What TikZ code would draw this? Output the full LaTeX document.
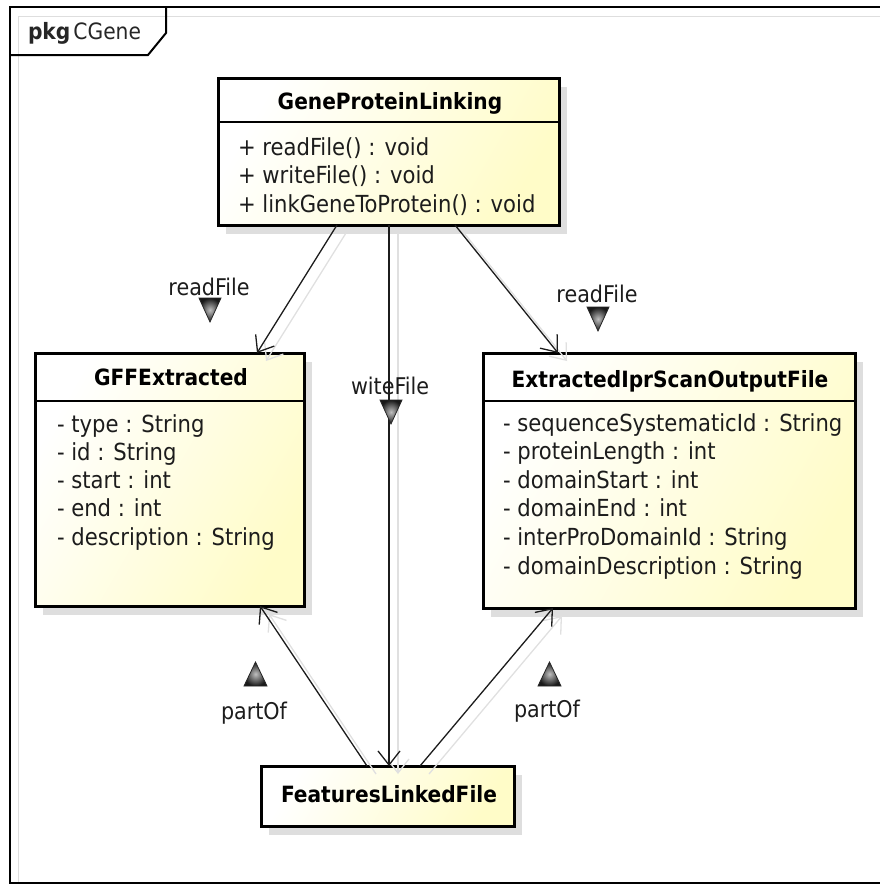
\documentclass[tikz,border=0pt]{standalone}
\usepackage{fontspec}
\setmainfont{DejaVu Sans Condensed}
\usetikzlibrary{arrows.meta,shadows}
\definecolor{clsfill}{RGB}{255,252,200}
\definecolor{ink}{RGB}{28,28,28}
\definecolor{ghost}{RGB}{224,224,224}
\definecolor{frameinner}{RGB}{222,222,222}

\begin{document}
\begin{tikzpicture}[x=1pt,y=-1pt,
  every node/.style={inner sep=0pt, outer sep=0pt, text=ink},
  txt/.style={font=\fontsize{23.5}{27}\selectfont, anchor=base west},
  lbl/.style={font=\fontsize{23}{27}\selectfont, anchor=base},
  ttl/.style={font=\fontsize{22.4}{27}\selectfont\bfseries, text=black, anchor=base},
  cls/.style={draw=black, line width=3pt, anchor=north west,
    top color=white, bottom color=clsfill, shading angle=60,
    drop shadow={shadow xshift=8pt, shadow yshift=-9pt, fill=black!13, opacity=1}},
  divider/.style={draw=black, line width=1.6pt},
  assoc/.style={draw=ink, line width=1.3pt, -{Straight Barb[length=14pt,width=22pt]}},
  ghostline/.style={draw=ghost, line width=1.3pt, -{Straight Barb[length=14pt,width=22pt]},
    transform canvas={xshift=9pt,yshift=-8pt}},
  marker/.style={draw=black!85, line width=0.8pt, inner color=gray!50, outer color=black!90},
]
\useasboundingbox (0,0) rectangle (879,886);

% package frame with its tab
\draw[frameinner, line width=1.5pt] (18.5,882) -- (18.5,16.5) -- (885,16.5);
\draw[black, line width=2pt] (885,7) -- (9.5,7) -- (9.5,883) -- (885,883);
\draw[black, line width=2pt] (166,7) -- (166,33) -- (148,55) -- (9.5,55);
\node[anchor=base west, font=\fontsize{22.5}{26}\selectfont, text=black!85] (pkgtitle) at (28,39)
  {\bfseries pkg\hspace{3pt}\mdseries CGene};

% classes
\node[cls, minimum width=341pt, minimum height=147pt] (gpl) at (218,78) {};
\node[cls, minimum width=269pt, minimum height=253pt] (gff) at (35,353) {};
\node[cls, minimum width=372pt, minimum height=255pt] (ipr) at (483,353) {};
\node[cls, minimum width=253pt, minimum height=60pt] (flf) at (261,766) {};

% compartment lines
\draw[divider] ([yshift=-44pt]gpl.north west) -- ([yshift=-44pt]gpl.north east);
\draw[divider] ([yshift=-48pt]gff.north west) -- ([yshift=-48pt]gff.north east);
\draw[divider] ([yshift=-48pt]ipr.north west) -- ([yshift=-48pt]ipr.north east);

% class names
\node[ttl] (gplname) at (390,109) {GeneProteinLinking};
\node[ttl] (gffname) at (171,385) {GFFExtracted};
\node[ttl] (iprname) at (670,387) {ExtractedIprScanOutputFile};
\node[ttl] (flfname) at (389,802) {FeaturesLinkedFile};

% operations
\node[txt] (gplop1) at (238,155) {+ readFile() : void};
\node[txt] (gplop2) at (238,183.5) {+ writeFile() : void};
\node[txt] (gplop3) at (238,212) {+ linkGeneToProtein() : void};

% attributes
\foreach \t [count=\i] in {type : String, id : String, start : int, end : int, description : String}
  \node[txt] (gffattr\i) at (57,432+28.3*\i-28.3) {- \t};
\foreach \t [count=\i] in {sequenceSystematicId : String, proteinLength : int, domainStart : int,
    domainEnd : int, interProDomainId : String, domainDescription : String}
  \node[txt] (iprattr\i) at (503,431+28.6*\i-28.6) {- \t};

% connector shadows
\draw[ghostline] ([xshift=119pt]gpl.south west) -- ([xshift=222pt]gff.north west);
\draw[ghostline] ([xshift=171pt]gpl.south west) -- ([xshift=128pt]flf.north west);
\draw[ghostline] ([xshift=237pt]gpl.south west) -- ([xshift=75pt]ipr.north west);
\draw[ghostline] ([xshift=106pt]flf.north west) -- ([xshift=225pt]gff.south west);
\draw[ghostline] ([xshift=159pt]flf.north west) -- ([xshift=70pt]ipr.south west);

% associations
\draw[assoc] ([xshift=119pt]gpl.south west) -- ([xshift=222pt]gff.north west);
\draw[assoc] ([xshift=171pt]gpl.south west) -- ([xshift=128pt]flf.north west);
\draw[assoc] ([xshift=237pt]gpl.south west) -- ([xshift=75pt]ipr.north west);
\draw[assoc] ([xshift=106pt]flf.north west) -- ([xshift=225pt]gff.south west);
\draw[assoc] ([xshift=159pt]flf.north west) -- ([xshift=70pt]ipr.south west);

% association names with direction markers
\node[lbl] (lblread1) at (209,295) {readFile};
\path[marker] (199,298) -- (221,298) -- (210,322) -- cycle;
\node[lbl] (lblread2) at (597,302) {readFile};
\path[marker] (587,307) -- (609,307) -- (598,331) -- cycle;
\node[lbl] (lblwrite) at (390,394) {witeFile};
\path[marker] (380,400) -- (402,400) -- (391,424) -- cycle;
\node[lbl] (lblpart1) at (254,719) {partOf};
\path[marker] (244,686) -- (267,686) -- (255.5,662) -- cycle;
\node[lbl] (lblpart2) at (547,717) {partOf};
\path[marker] (538,686) -- (561,686) -- (549.5,662) -- cycle;
\end{tikzpicture}
\end{document}
